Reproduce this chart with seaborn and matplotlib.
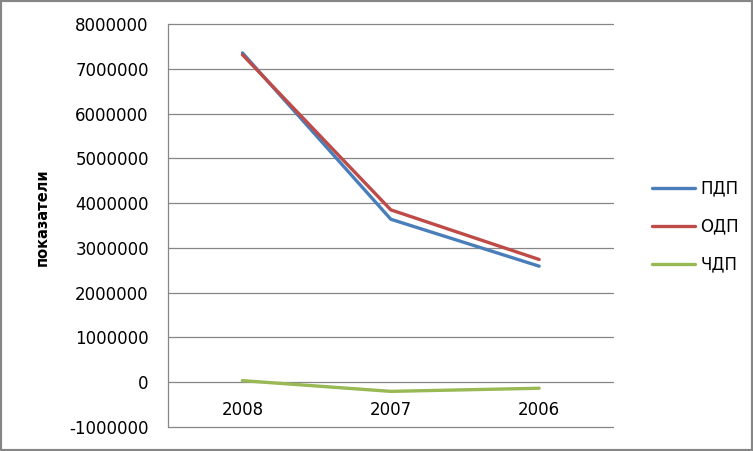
import numpy as np
import pandas as pd
import seaborn as sns
import matplotlib
matplotlib.use("Agg")
import matplotlib.pyplot as plt
from matplotlib.patches import Rectangle

# values
years = ["2008", "2007", "2006"]
pdp = [7360000, 3640000, 2590000]    # ПДП
odp = [7320000, 3850000, 2740000]    # ОДП
chdp = [30000, -210000, -140000]     # ЧДП
series_names = ["ПДП", "ОДП", "ЧДП"]
colors = ["#4A7EBB", "#BE4B48", "#98B954"]
yticks = list(range(-1000000, 8000001, 1000000))

df = pd.DataFrame({
    "year": years * 3,
    "value": pdp + odp + chdp,
    "series": [series_names[0]] * 3 + [series_names[1]] * 3 + [series_names[2]] * 3,
})

sns.set_style("white")
plt.rcParams["font.family"] = ["DejaVu Sans"]
plt.rcParams["text.color"] = "black"

fig = plt.figure(figsize=(7.53, 4.51), dpi=100)
ax = fig.add_axes([0.2235, 0.0539, 0.591, 0.8922])

sns.lineplot(data=df, x="year", y="value", hue="series", hue_order=series_names,
             palette=colors, linewidth=2.4, sort=False, ax=ax, legend=True)

ax.set_xlim(-0.5, 2.5)
ax.set_ylim(-1000000, 8000000)
ax.set_yticks(yticks)
ax.set_yticklabels([str(v) for v in yticks])
ax.grid(axis="y", color="#868686", linewidth=0.9)
ax.set_axisbelow(True)
for gl in ax.get_ygridlines():
    gl.set_clip_on(False)

for s in ["top", "right", "bottom"]:
    ax.spines[s].set_visible(False)
ax.spines["left"].set_color("#868686")
ax.spines["left"].set_linewidth(0.9)

ax.tick_params(axis="y", length=0, pad=14, labelsize=12, colors="black")
ax.tick_params(axis="x", length=0, labelsize=12, colors="black")
for lbl in ax.get_xticklabels():
    lbl.set_verticalalignment("center")
# x labels sit just below the zero line, above the bottom edge
ax.xaxis.set_tick_params(pad=-12)

ax.set_xlabel("")
ax.set_ylabel("показатели", fontsize=10.5, fontweight="bold", color="black")
ax.yaxis.set_label_coords(-0.266, 0.52)

handles, labels = ax.get_legend_handles_labels()
ax.legend_.remove()
fig.legend(handles, labels, loc="center left", bbox_to_anchor=(0.855, 0.497),
           frameon=False, fontsize=12, handlelength=2.6, handletextpad=0.3,
           labelspacing=1.2, borderpad=0)

fig.patches.append(Rectangle((0, 0), 1, 1, transform=fig.transFigure, fill=False,
                             edgecolor="#868686", linewidth=3))

fig.savefig("out.png", dpi=100)
